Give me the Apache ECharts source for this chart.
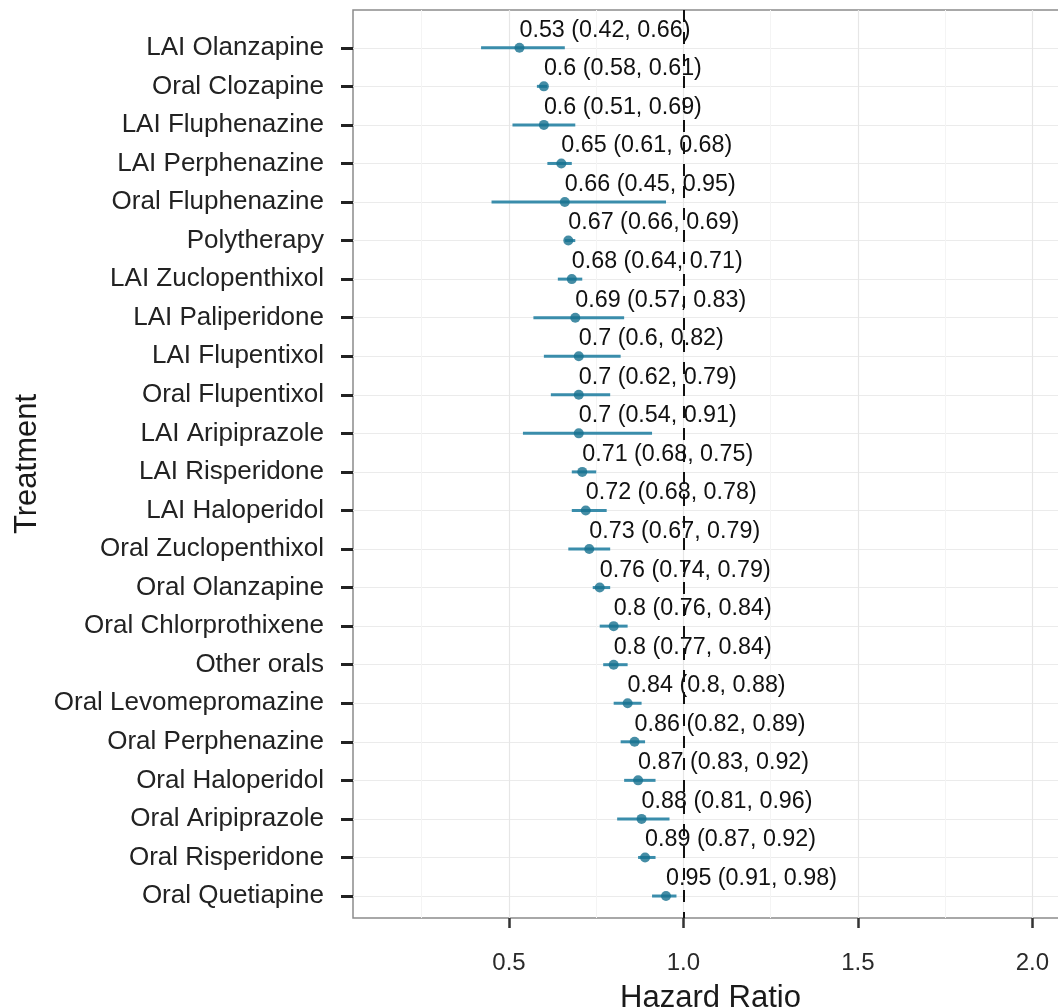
<!DOCTYPE html>
<html>
<head>
<meta charset="utf-8">
<script src="https://cdn.jsdelivr.net/npm/echarts@6/dist/echarts.min.js"></script>
<style>
  html, body { margin: 0; padding: 0; background: #ffffff; }
  #chart { width: 1058px; height: 1008px; }
</style>
</head>
<body>
<div id="chart"></div>
<script>
// Hazard ratios with 95% confidence intervals, one row per treatment (top to bottom)
const treatments = [
  'LAI Olanzapine', 'Oral Clozapine', 'LAI Fluphenazine', 'LAI Perphenazine',
  'Oral Fluphenazine', 'Polytherapy', 'LAI Zuclopenthixol', 'LAI Paliperidone',
  'LAI Flupentixol', 'Oral Flupentixol', 'LAI Aripiprazole', 'LAI Risperidone',
  'LAI Haloperidol', 'Oral Zuclopenthixol', 'Oral Olanzapine', 'Oral Chlorprothixene',
  'Other orals', 'Oral Levomepromazine', 'Oral Perphenazine', 'Oral Haloperidol',
  'Oral Aripiprazole', 'Oral Risperidone', 'Oral Quetiapine'
];
const hazardRatio = [0.53, 0.6, 0.6, 0.65, 0.66, 0.67, 0.68, 0.69, 0.7, 0.7, 0.7, 0.71,
  0.72, 0.73, 0.76, 0.8, 0.8, 0.84, 0.86, 0.87, 0.88, 0.89, 0.95];
const ciLower = [0.42, 0.58, 0.51, 0.61, 0.45, 0.66, 0.64, 0.57, 0.6, 0.62, 0.54, 0.68,
  0.68, 0.67, 0.74, 0.76, 0.77, 0.8, 0.82, 0.83, 0.81, 0.87, 0.91];
const ciUpper = [0.66, 0.61, 0.69, 0.68, 0.95, 0.69, 0.71, 0.83, 0.82, 0.79, 0.91, 0.75,
  0.78, 0.79, 0.79, 0.84, 0.84, 0.88, 0.89, 0.92, 0.96, 0.92, 0.98];
const xTickValues = [0.5, 1.0, 1.5, 2.0];
const xMinorValues = [0.25, 0.75, 1.25, 1.75];
const referenceLine = 1.0;

const rowIndex = treatments.map((_, i) => i);
const FONT = '"Liberation Sans", Arial, Helvetica, sans-serif';

const ciData = treatments.map((_, i) => [ciLower[i], ciUpper[i], i]);
const pointData = treatments.map((_, i) => ({
  value: [hazardRatio[i], i],
  labelText: hazardRatio[i] + ' (' + ciLower[i] + ', ' + ciUpper[i] + ')'
}));

const gridLines = [].concat(
  rowIndex.map(i => ({ yAxis: i, lineStyle: { color: '#ebebeb', width: 1.2, type: 'solid' } })),
  xTickValues.map(v => ({ xAxis: v, lineStyle: { color: '#e6e6e6', width: 1.2, type: 'solid' } })),
  xMinorValues.map(v => ({ xAxis: v, lineStyle: { color: '#f4f4f4', width: 1, type: 'solid' } }))
);

const chart = echarts.init(document.getElementById('chart'));
chart.setOption({
  backgroundColor: '#ffffff',
  animation: false,
  grid: {
    left: 353, right: -10, top: 10, bottom: 90,
    outerBoundsMode: 'none',
    containLabel: false,
    show: true, backgroundColor: '#ffffff',
    borderColor: '#8c8c8c', borderWidth: 1.5
  },
  xAxis: {
    type: 'value',
    min: 0.053, max: 2.102,
    name: 'Hazard Ratio',
    nameLocation: 'middle',
    nameGap: 65,
    nameTextStyle: { fontFamily: FONT, fontSize: 31, color: '#1a1a1a' },
    axisLine: { show: false, onZero: false },
    splitLine: { show: false },
    axisTick: {
      show: true, length: 10, customValues: xTickValues,
      lineStyle: { color: '#333333', width: 2.5 }
    },
    axisLabel: {
      customValues: xTickValues, margin: 33,
      fontFamily: FONT, fontSize: 24, color: '#2a2a2a',
      formatter: v => Number(v).toFixed(1)
    }
  },
  yAxis: {
    type: 'value',
    inverse: true,
    min: -0.98, max: 22.57,
    name: 'Treatment',
    nameLocation: 'middle',
    nameRotate: 90,
    nameGap: 303,
    nameTextStyle: { fontFamily: FONT, fontSize: 31, color: '#1a1a1a' },
    axisLine: { show: false, onZero: false },
    splitLine: { show: false },
    axisTick: {
      show: true, length: 12, customValues: rowIndex,
      lineStyle: { color: '#222222', width: 3 }
    },
    axisLabel: {
      customValues: rowIndex, margin: 29,
      fontFamily: FONT, fontSize: 26, color: '#222222',
      formatter: v => treatments[Math.round(v)] || ''
    }
  },
  series: [
    {
      // background grid lines
      name: 'grid',
      type: 'line',
      data: [],
      z: 1,
      silent: true,
      markLine: {
        z: 1,
        silent: true, symbol: 'none', animation: false,
        label: { show: false },
        data: gridLines
      }
    },
    {
      name: 'ci',
      type: 'custom',
      z: 3,
      silent: true,
      data: ciData,
      encode: { x: [0, 1], y: 2 },
      renderItem: function (params, api) {
        const a = api.coord([api.value(0), api.value(2)]);
        const b = api.coord([api.value(1), api.value(2)]);
        return {
          type: 'line',
          shape: { x1: a[0], y1: a[1], x2: b[0], y2: b[1] },
          style: { stroke: '#3a8dab', lineWidth: 3 }
        };
      }
    },
    {
      name: 'hr',
      type: 'scatter',
      z: 4,
      silent: true,
      symbol: 'circle',
      symbolSize: 10,
      itemStyle: { color: '#17708f' },
      data: pointData,
      label: {
        show: true,
        position: 'top',
        align: 'left',
        distance: 1,
        opacity: 1,
        textBorderWidth: 0,
        fontFamily: FONT,
        fontSize: 23.3,
        color: '#111111',
        formatter: p => p.data.labelText
      },
      markLine: {
        silent: true, symbol: 'none', animation: false,
        label: { show: false },
        lineStyle: { color: '#111111', width: 2, type: [12, 10] },
        data: [{ xAxis: referenceLine }]
      }
    }
  ]
});
</script>
</body>
</html>
